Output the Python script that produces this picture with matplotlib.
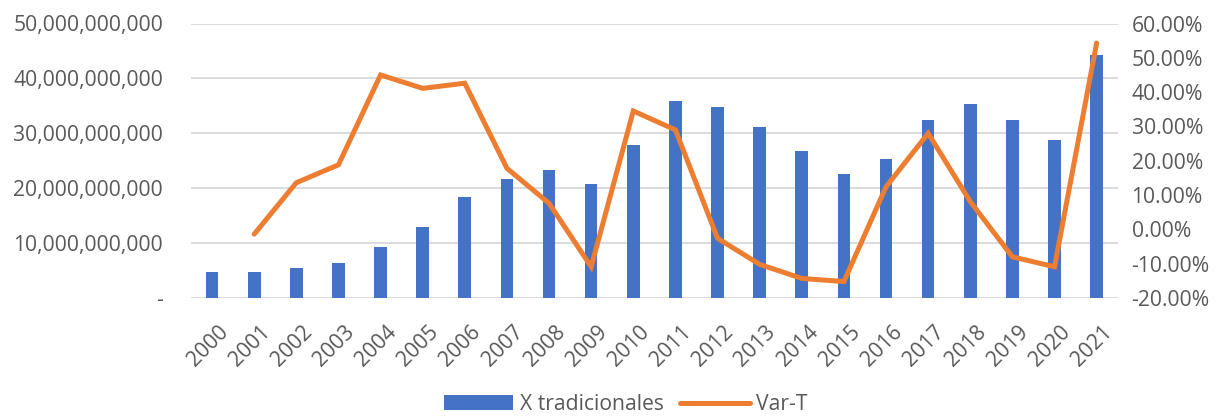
import matplotlib
matplotlib.use("Agg")
import matplotlib.pyplot as plt
import numpy as np
from matplotlib.ticker import FuncFormatter
from matplotlib.legend_handler import HandlerPatch
from matplotlib.patches import Rectangle
from matplotlib.transforms import ScaledTranslation

years = [str(y) for y in range(2000, 2022)]
x_tradicionales = [4.7e9, 4.7e9, 5.4e9, 6.3e9, 9.2e9, 12.85e9, 18.4e9, 21.6e9, 23.3e9, 20.7e9,
                   27.8e9, 35.9e9, 34.8e9, 31.2e9, 26.7e9, 22.6e9, 25.4e9, 32.5e9, 35.3e9, 32.5e9,
                   28.8e9, 44.3e9]
var_t = [np.nan, -1.4, 13.6, 18.8, 45.0, 41.1, 42.6, 17.8, 7.6, -10.9,
         34.5, 29.0, -2.6, -10.2, -14.3, -15.2, 12.4, 28.0, 8.1, -8.0,
         -10.9, 54.3]

plt.rcParams['font.family'] = ['Open Sans', 'DejaVu Sans']
txt = '#595959'
fs = 15.2

fig = plt.figure(figsize=(12.22, 4.17), dpi=100)
ax = fig.add_axes([191 / 1222, 1 - 298 / 417, 926.7 / 1222, (298 - 23.5) / 417])
ax2 = ax.twinx()

x = np.arange(len(years))
ax.bar(x, x_tradicionales, width=0.30, color='#4472C4', label='X tradicionales', zorder=2)
ax2.plot(x, var_t, color='#ED7D31', lw=3.6, solid_capstyle='round', solid_joinstyle='miter', label='Var-T')

ax.set_xlim(-0.5, len(years) - 0.5)
ax.set_ylim(0, 50e9)
ax.set_yticks(np.arange(0, 50e9 + 1, 10e9))
ax.yaxis.set_major_formatter(FuncFormatter(lambda v, p: '-' if v == 0 else f'{v:,.0f}'))
ax2.set_ylim(-20, 60)
ax2.set_yticks(np.arange(-20, 61, 10))
ax2.yaxis.set_major_formatter(FuncFormatter(lambda v, p: f'{v:.2f}%'))

ax.grid(axis='y', color='#d9d9d9', lw=1.3, zorder=0)
ax.set_axisbelow(True)
for a in (ax, ax2):
    for s in a.spines.values():
        s.set_visible(False)
    a.tick_params(length=0, colors=txt, labelsize=fs)

ax.set_xticks(x)
ax.set_xticklabels(years, rotation=45, ha='right', rotation_mode='anchor')
ax.tick_params(axis='x', pad=17)
ax.tick_params(axis='y', pad=20)
ax2.tick_params(axis='y', pad=10)
off = ScaledTranslation(4 / 72, 0, fig.dpi_scale_trans)
for lab in ax.get_xticklabels():
    lab.set_transform(lab.get_transform() + off)


def short_patch(legend, orig_handle, xdescent, ydescent, width, height, fontsize):
    w = width * 0.74
    return Rectangle((-xdescent + width - w, -ydescent - height * 0.1), w, height * 1.2)


h1, l1 = ax.get_legend_handles_labels()
h2, l2 = ax2.get_legend_handles_labels()
fig.legend(h1 + h2, l1 + l2, loc='center', bbox_to_anchor=(0.512, 0.03), ncol=2,
           frameon=False, fontsize=fs, labelcolor=txt, handlelength=3.3, handleheight=0.7,
           handletextpad=0.3, columnspacing=0.8,
           handler_map={Rectangle: HandlerPatch(patch_func=short_patch)})

fig.savefig('out.png', dpi=100)
